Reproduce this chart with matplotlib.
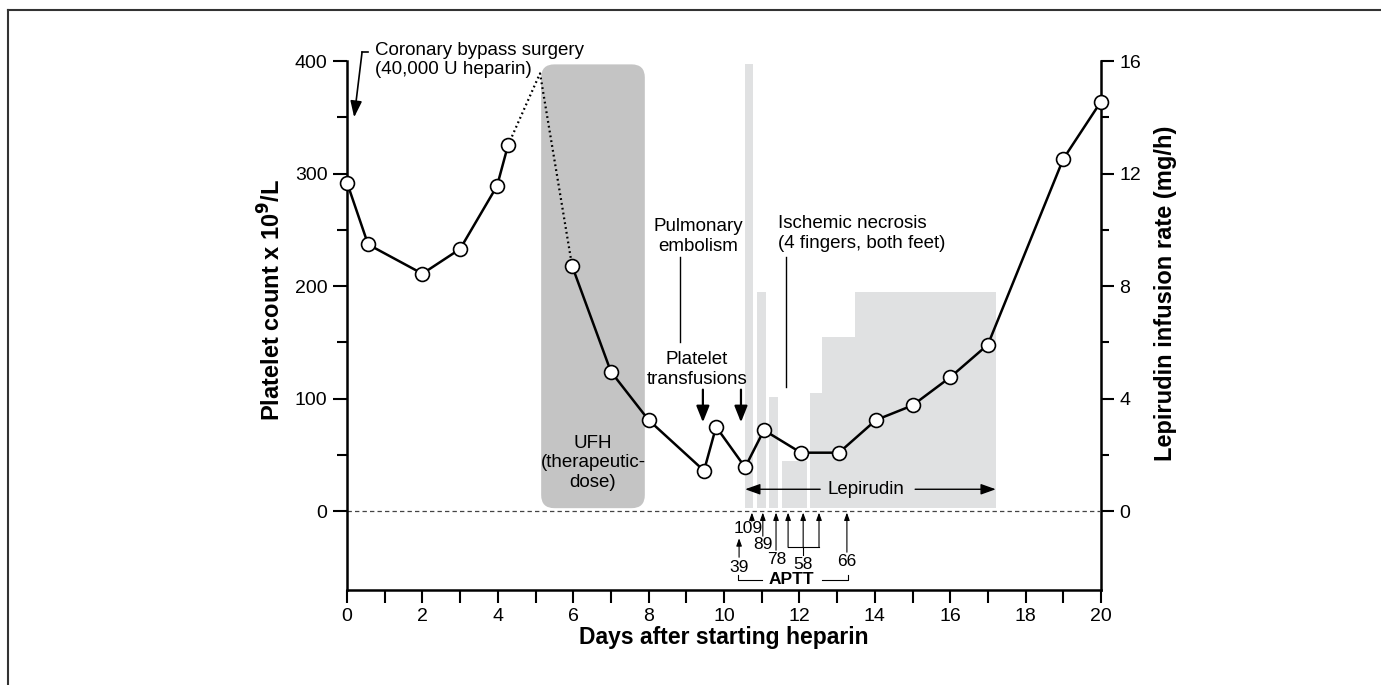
import matplotlib
matplotlib.use('Agg')
import matplotlib.pyplot as plt
from matplotlib.patches import FancyBboxPatch
from matplotlib.lines import Line2D
from matplotlib.ticker import FixedLocator, MultipleLocator

plt.rcParams['font.family'] = ['Liberation Sans', 'DejaVu Sans']

# ---- data ----
days = [0, 0.56, 2.0, 3.0, 3.98, 4.27, 5.97, 7.0, 8.0, 9.47, 9.79, 10.56,
        11.06, 12.04, 13.05, 14.03, 15.0, 16.0, 17.0, 19.0, 20.0]
platelets = [292, 237, 211, 233, 289, 325, 218, 124, 81, 36, 75, 39,
             72, 52, 52, 81, 94, 119, 148, 313, 364]
peak_day = 5.12          # unmeasured post-surgery peak (dotted)
peak_count = 389

lep_start = [10.56, 10.88, 11.19, 11.54, 12.28, 12.60, 13.47]
lep_end = [10.77, 11.11, 11.43, 12.20, 12.60, 13.47, 17.21]
lep_rate = [15.9, 7.8, 4.05, 1.8, 4.2, 6.2, 7.8]

ufh_start, ufh_end, ufh_top = 5.15, 7.90, 397

aptt_labels = ['39', '109', '89', '78', '58', '66']

x_ticks = list(range(0, 21, 2))
y_ticks = [0, 100, 200, 300, 400]
y2_ticks = [0, 4, 8, 12, 16]

FS = 13.5
TFS = 14
fig = plt.figure(figsize=(13.81, 6.85), dpi=100)
ax = fig.add_axes([347/1381, 95/685, 754/1381, 529/685])
ax2 = ax.twinx()
ax.set_zorder(ax2.get_zorder() + 1)
ax.patch.set_visible(False)

ax.set_xlim(0, 20)
ax.set_ylim(-70, 400)
ax2.set_ylim(-2.8, 16)

# Lepirudin bars (right axis)
widths = [e - s for s, e in zip(lep_start, lep_end)]
ax2.bar(lep_start, [r - 0.1 for r in lep_rate], width=widths, bottom=0.1,
        align='edge', color='#e0e1e2', edgecolor='none', zorder=1)

# UFH box
box = FancyBboxPatch((ufh_start, 2.7), ufh_end - ufh_start, ufh_top - 2.7,
                     boxstyle="round,pad=0,rounding_size=0.35",
                     mutation_aspect=33.5, facecolor='#c4c4c4',
                     edgecolor='none', zorder=1)
ax.add_patch(box)
ax.text((ufh_start + ufh_end) / 2, 43, 'UFH\n(therapeutic-\ndose)',
        ha='center', va='center', fontsize=FS, zorder=3)

# zero dashed line
ax.axhline(0, color='#444444', lw=0.9, ls=(0, (3.5, 2.5)), zorder=2)

# platelet line
ax.plot(days[:6], platelets[:6], color='black', lw=1.8, zorder=4, clip_on=False)
ax.plot(days[6:], platelets[6:], color='black', lw=1.8, zorder=4, clip_on=False)
ax.plot([days[5], peak_day, days[6]], [platelets[5], peak_count, platelets[6]],
        color='black', lw=1.6, ls=(0, (0.8, 1.4)), zorder=4)
ax.plot(days, platelets, ls='none', marker='o', ms=10, mfc='white',
        mec='black', mew=1.2, zorder=5, clip_on=False)

# Coronary bypass annotation
ax.text(0.74, 401, 'Coronary bypass surgery\n(40,000 U heparin)', fontsize=FS,
        ha='left', va='center', zorder=6)
ax.add_line(Line2D([0.40, 0.55], [408, 408], color='black', lw=1.2, clip_on=False))
ax.annotate('', xy=(0.19, 350), xytext=(0.40, 408),
            arrowprops=dict(arrowstyle='-|>,head_length=0.7,head_width=0.25',
                            color='black', lw=1.2, mutation_scale=14,
                            shrinkA=0, shrinkB=0), annotation_clip=False)

# Pulmonary embolism
ax.text(9.31, 244, 'Pulmonary\nembolism', fontsize=FS, ha='center', va='center')
ax.plot([8.83, 8.83], [226, 150], color='black', lw=1.0)

# Platelet transfusions
ax.text(9.28, 126, 'Platelet\ntransfusions', fontsize=FS, ha='center', va='center')
for xd in (9.44, 10.45):
    ax.annotate('', xy=(xd, 79), xytext=(xd, 108),
                arrowprops=dict(arrowstyle='-|>,head_length=0.7,head_width=0.28',
                                color='black', lw=1.6, mutation_scale=14,
                                shrinkA=0, shrinkB=0))

# Ischemic necrosis
ax.text(11.43, 247, 'Ischemic necrosis\n(4 fingers, both feet)', fontsize=FS,
        ha='left', va='center')
ax.plot([11.64, 11.64], [226, 110], color='black', lw=1.0)

# Lepirudin double arrow
ax.text(13.77, 19.5, 'Lepirudin', fontsize=FS, ha='center', va='center', zorder=6)
for x0, x1 in ((12.55, lep_start[0]), (15.07, lep_end[-1])):
    ax.annotate('', xy=(x1, 19.5), xytext=(x0, 19.5),
                arrowprops=dict(arrowstyle='-|>,head_length=0.7,head_width=0.25',
                                color='black', lw=1.0, mutation_scale=13,
                                shrinkA=0, shrinkB=0))

# APTT annotations
AFS = 12.5
small = dict(arrowstyle='-|>,head_length=0.5,head_width=0.18', color='black',
             lw=0.8, mutation_scale=9, shrinkA=0, shrinkB=0)
lab_pos = {'39': (10.40, -49.8), '109': (10.64, -15.1), '89': (11.03, -29.3),
           '78': (11.41, -42.7), '58': (12.10, -47.1), '66': (13.26, -44.4)}
for lab in aptt_labels:
    ax.text(*lab_pos[lab], lab, fontsize=AFS, ha='center', va='center',
            clip_on=False)
arrows = [(10.40, -40.9, -24.0), (10.74, -8.9, -1.2), (11.03, -22.2, -1.2),
          (11.38, -34.7, -1.2), (11.70, -32.0, -1.2), (12.10, -32.0, -1.2),
          (12.52, -32.0, -1.2), (13.26, -36.4, -1.2)]
for xd, y0, y1 in arrows:
    ax.annotate('', xy=(xd, y1), xytext=(xd, y0), arrowprops=small)
ax.plot([11.70, 12.52], [-32, -32], color='black', lw=0.8)
ax.plot([12.10, 12.10], [-32, -39], color='black', lw=0.8)
ax.text(11.80, -60.4, 'APTT', fontsize=AFS, fontweight='bold',
        ha='center', va='center')
ax.plot([10.37, 10.37, 11.01], [-56.5, -61.3, -61.3], color='black', lw=0.8)
ax.plot([12.60, 13.29, 13.29], [-61.3, -61.3, -56.5], color='black', lw=0.8)

# axes styling
ax.spines['top'].set_visible(False)
ax2.spines['top'].set_visible(False)
for s in ('left', 'bottom'):
    ax2.spines[s].set_visible(False)
ax.spines['right'].set_visible(False)
for sp in (ax.spines['left'], ax.spines['bottom'], ax2.spines['right']):
    sp.set_linewidth(1.8)

ax.set_xticks(x_ticks)
ax.set_xticklabels([str(t) for t in x_ticks])
ax.xaxis.set_minor_locator(MultipleLocator(1))
ax.set_yticks(y_ticks)
ax.set_yticklabels([str(t) for t in y_ticks])
ax.yaxis.set_minor_locator(FixedLocator([50, 150, 250, 350]))
ax2.set_yticks(y2_ticks)
ax2.set_yticklabels([str(t) for t in y2_ticks])
ax2.yaxis.set_minor_locator(FixedLocator([2, 6, 10, 14]))

ax.tick_params(axis='y', which='major', direction='out', length=10, width=1.5,
               labelsize=TFS, pad=4)
ax.tick_params(axis='y', which='minor', direction='out', length=7, width=1.5)
ax.tick_params(axis='x', which='both', direction='out', length=9, width=1.5,
               labelsize=TFS, pad=4)
ax2.tick_params(axis='y', which='major', direction='out', length=9, width=1.5,
                labelsize=TFS, pad=4)
ax2.tick_params(axis='y', which='minor', direction='out', length=6, width=1.5)

# axis labels
ax.text(0.5, -0.0907, 'Days after starting heparin', transform=ax.transAxes,
        fontsize=16.5, fontweight='bold', ha='center', va='center')
ax.text(-0.0995, 0.548, 'Platelet count x 10$^{\\mathbf{9}}$/L', transform=ax.transAxes,
        fontsize=17, fontweight='bold', ha='center', va='center', rotation=90)
ax.text(1.086, 0.561, 'Lepirudin infusion rate (mg/h)', transform=ax.transAxes,
        fontsize=17, fontweight='bold', ha='center', va='center', rotation=90)

# figure frame (top and left)
fig.add_artist(Line2D([8/1381, 1], [1 - 10/685, 1 - 10/685], color='#333333',
                      lw=1.5, transform=fig.transFigure))
fig.add_artist(Line2D([8/1381, 8/1381], [0, 1 - 10/685], color='#333333',
                      lw=1.5, transform=fig.transFigure))

fig.savefig('out.png', dpi=100)
